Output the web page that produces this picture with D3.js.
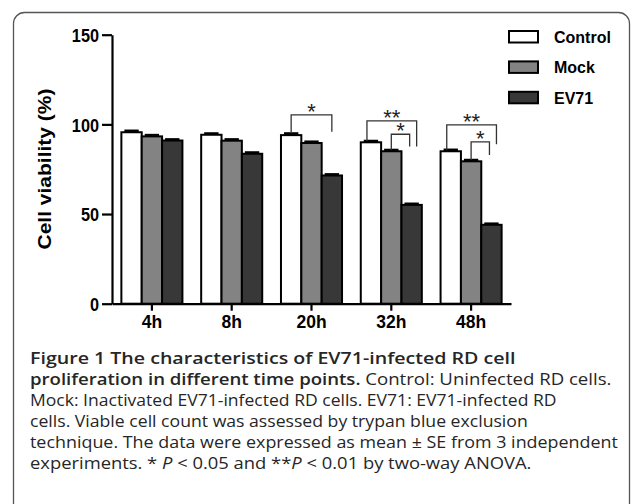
<!DOCTYPE html>
<html>
<head>
<meta charset="utf-8">
<script src="https://cdn.jsdelivr.net/npm/d3@7"></script>
<style>
  body { margin: 0; background: #fff; }
  svg { display: block; }
  .axis path, .axis line { stroke: #000; stroke-width: 2.2; }
  .axis text { font-family: "Liberation Sans", Arial, sans-serif; font-weight: bold; fill: #000; }
  .caption { font-family: "Open Sans", "Noto Sans", sans-serif; fill: #262626; font-size: 16px; }
</style>
</head>
<body>
<div id="chart"></div>
<script>
var width = 633
var height = 504

// data
var timePoints = ["4h", "8h", "20h", "32h", "48h"]
var groups = ["Control", "Mock", "EV71"]
var controlMean = [95.6, 94.2, 94.0, 90.0, 85.0]
var mockMean = [93.3, 90.9, 89.6, 85.0, 79.4]
var ev71Mean = [91.0, 83.6, 71.5, 55.1, 44.0]
var controlSE = [0.8, 0.7, 0.9, 0.7, 0.8]
var mockSE = [0.7, 0.7, 0.7, 0.7, 0.7]
var ev71SE = [0.6, 0.7, 0.6, 0.6, 0.6]
var yTicks = [0, 50, 100, 150]
var fills = ["#ffffff", "#838383", "#383838"]

// significance brackets, heights in % units
var brackets = [
  {time: "20h", from: "Control", to: "EV71", top: 105.3, end: 95.9, label: "*"},
  {time: "32h", from: "Control", to: "EV71", top: 101.9, end: 87.6, label: "**"},
  {time: "32h", from: "Mock", to: "EV71", top: 94.5, end: 87.6, label: "*"},
  {time: "48h", from: "Control", to: "EV71", top: 99.7, end: 88.9, label: "**"},
  {time: "48h", from: "Mock", to: "EV71", top: 90.2, end: 82.9, label: "*"}
]

var captionLines = [
  [{t: "Figure 1 The characteristics of EV71-infected RD cell", b: 1}],
  [{t: "proliferation in different time points.", b: 1}, {t: " Control: Uninfected RD cells."}],
  [{t: "Mock: Inactivated EV71-infected RD cells. EV71: EV71-infected RD"}],
  [{t: "cells. Viable cell count was assessed by trypan blue exclusion"}],
  [{t: "technique. The data were expressed as mean \u00b1 SE from 3 independent"}],
  [{t: "experiments. * "}, {t: "P", i: 1}, {t: " < 0.05 and **"}, {t: "P", i: 1}, {t: " < 0.01 by two-way ANOVA."}]
]
var captionEnds = [516, 612, 557, 528, 618, 532]

var means = [controlMean, mockMean, ev71Mean]
var ses = [controlSE, mockSE, ev71SE]

var rows = timePoints.map(function(t, i) {
  return {time: t, values: groups.map(function(g, j) {
    return {group: g, mean: means[j][i], se: ses[j][i], idx: j}
  })}
})

var svg = d3.select("#chart")
            .append("svg")
            .attr("width", width)
            .attr("height", height)

// rounded frame
svg.append("rect")
  .attr("x", 13.5)
  .attr("y", 12.5)
  .attr("width", 616)
  .attr("height", 540)
  .attr("rx", 11)
  .attr("fill", "none")
  .attr("stroke", "#555")
  .attr("stroke-width", 1.3)

var plotLeft = 112, plotRight = 511, plotTop = 34.7, plotBottom = 303.7

var x0 = d3.scaleBand()
    .domain(timePoints)
    .range([plotLeft, plotRight])
    .paddingInner(0.235)
    .paddingOuter(0.1175)

var x1 = d3.scaleBand()
    .domain(groups)
    .range([0, x0.bandwidth()])

var y = d3.scaleLinear()
    .domain([0, 150])
    .range([plotBottom, plotTop])

// bars
var g = svg.append("g")
  .selectAll("g")
  .data(rows)
  .enter().append("g")
    .attr("transform", function(d) { return "translate(" + x0(d.time) + ",0)" })

g.selectAll("rect")
  .data(function(d) { return d.values })
  .enter().append("rect")
    .attr("x", function(d) { return x1(d.group) })
    .attr("y", function(d) { return y(d.mean) })
    .attr("width", x1.bandwidth())
    .attr("height", function(d) { return y(0) - y(d.mean) })
    .attr("fill", function(d) { return fills[d.idx] })
    .attr("stroke", "#000")
    .attr("stroke-width", 2)

// error bars (upper only)
g.selectAll("line.err")
  .data(function(d) { return d.values })
  .enter().append("line")
    .attr("class", "err")
    .attr("x1", function(d) { return x1(d.group) + x1.bandwidth() / 2 })
    .attr("x2", function(d) { return x1(d.group) + x1.bandwidth() / 2 })
    .attr("y1", function(d) { return y(d.mean) })
    .attr("y2", function(d) { return y(d.mean + d.se) })
    .attr("stroke", "#000")
    .attr("stroke-width", 2)

g.selectAll("line.cap")
  .data(function(d) { return d.values })
  .enter().append("line")
    .attr("class", "cap")
    .attr("x1", function(d) { return x1(d.group) + 3 })
    .attr("x2", function(d) { return x1(d.group) + x1.bandwidth() - 3 })
    .attr("y1", function(d) { return y(d.mean + d.se) })
    .attr("y2", function(d) { return y(d.mean + d.se) })
    .attr("stroke", "#000")
    .attr("stroke-width", 2.6)

// axes
var yAxis = svg.append("g")
  .attr("class", "axis")
  .attr("transform", "translate(" + plotLeft + ",0)")
  .call(d3.axisLeft(y).tickValues(yTicks).tickSize(10).tickSizeOuter(0).tickPadding(3))

yAxis.selectAll("text")
  .attr("font-size", 18.5)
  .attr("dy", "0.36em")
  .attr("transform", "translate(-13,0) scale(0.88,1) translate(13,0)")

var xAxis = svg.append("g")
  .attr("class", "axis")
  .attr("transform", "translate(0," + plotBottom + ")")
  .call(d3.axisBottom(x0).tickSize(7).tickSizeOuter(0).tickPadding(4))

xAxis.selectAll("text")
  .attr("font-size", 17.5)
  .attr("dy", "0.78em")

svg.append("text")
  .attr("transform", "translate(50.5,169) rotate(-90) scale(1,0.88)")
  .attr("text-anchor", "middle")
  .attr("font-family", "Liberation Sans, Arial, sans-serif")
  .attr("font-weight", "bold")
  .attr("font-size", 21)
  .text("Cell viability (%)")

// significance brackets
function barCenter(time, group) {
  return x0(time) + x1(group) + x1.bandwidth() / 2
}
function barTop(time, group) {
  var r = rows[timePoints.indexOf(time)].values[groups.indexOf(group)]
  return r.mean + r.se
}

brackets.forEach(function(b) {
  var nested = brackets.filter(function(o) { return o.time == b.time }).length > 1
  var outer = nested && b.from == "Control"
  var xl = barCenter(b.time, b.from) + (outer ? -4 : 0)
  var xr = barCenter(b.time, b.to) + (outer ? 5 : (nested ? -2 : 0))
  var yt = y(b.top)
  svg.append("path")
    .attr("d", "M" + xl + "," + y(barTop(b.time, b.from)) + "V" + yt + "H" + xr + "V" + y(b.end))
    .attr("fill", "none")
    .attr("stroke", "#333")
    .attr("stroke-width", 1.3)
  svg.append("text")
    .attr("x", (xl + xr) / 2)
    .attr("y", yt + 4)
    .attr("text-anchor", "middle")
    .attr("font-family", "Liberation Sans, Arial, sans-serif")
    .attr("font-size", 22)
    .attr("fill", "#222")
    .text(b.label)
})

// legend
var legend = svg.append("g")
  .selectAll("g")
  .data(groups)
  .enter().append("g")
    .attr("transform", function(d, i) { return "translate(509," + (31 + i * 30.4) + ")" })

legend.append("rect")
  .attr("width", 29)
  .attr("height", 11.5)
  .attr("fill", function(d, i) { return fills[i] })
  .attr("stroke", "#000")
  .attr("stroke-width", 2)

legend.append("text")
  .attr("x", 45)
  .attr("y", 11.8)
  .attr("font-family", "Liberation Sans, Arial, sans-serif")
  .attr("font-weight", "bold")
  .attr("font-size", 16)
  .text(function(d) { return d })

// caption
var cap = svg.append("g").attr("class", "caption")
captionLines.forEach(function(line, i) {
  var t = cap.append("text")
    .attr("x", 30)
    .attr("y", 364.5 + i * 21)
  line.forEach(function(s) {
    t.append("tspan")
      .attr("font-weight", s.b ? 600 : null)
      .attr("font-style", s.i ? "italic" : null)
      .text(s.t)
  })
  var len = t.node().getComputedTextLength()
  var k = (captionEnds[i] - 30) / len
  t.attr("transform", "translate(30,0) scale(" + k + ",1) translate(-30,0)")
})
</script>
</body>
</html>
